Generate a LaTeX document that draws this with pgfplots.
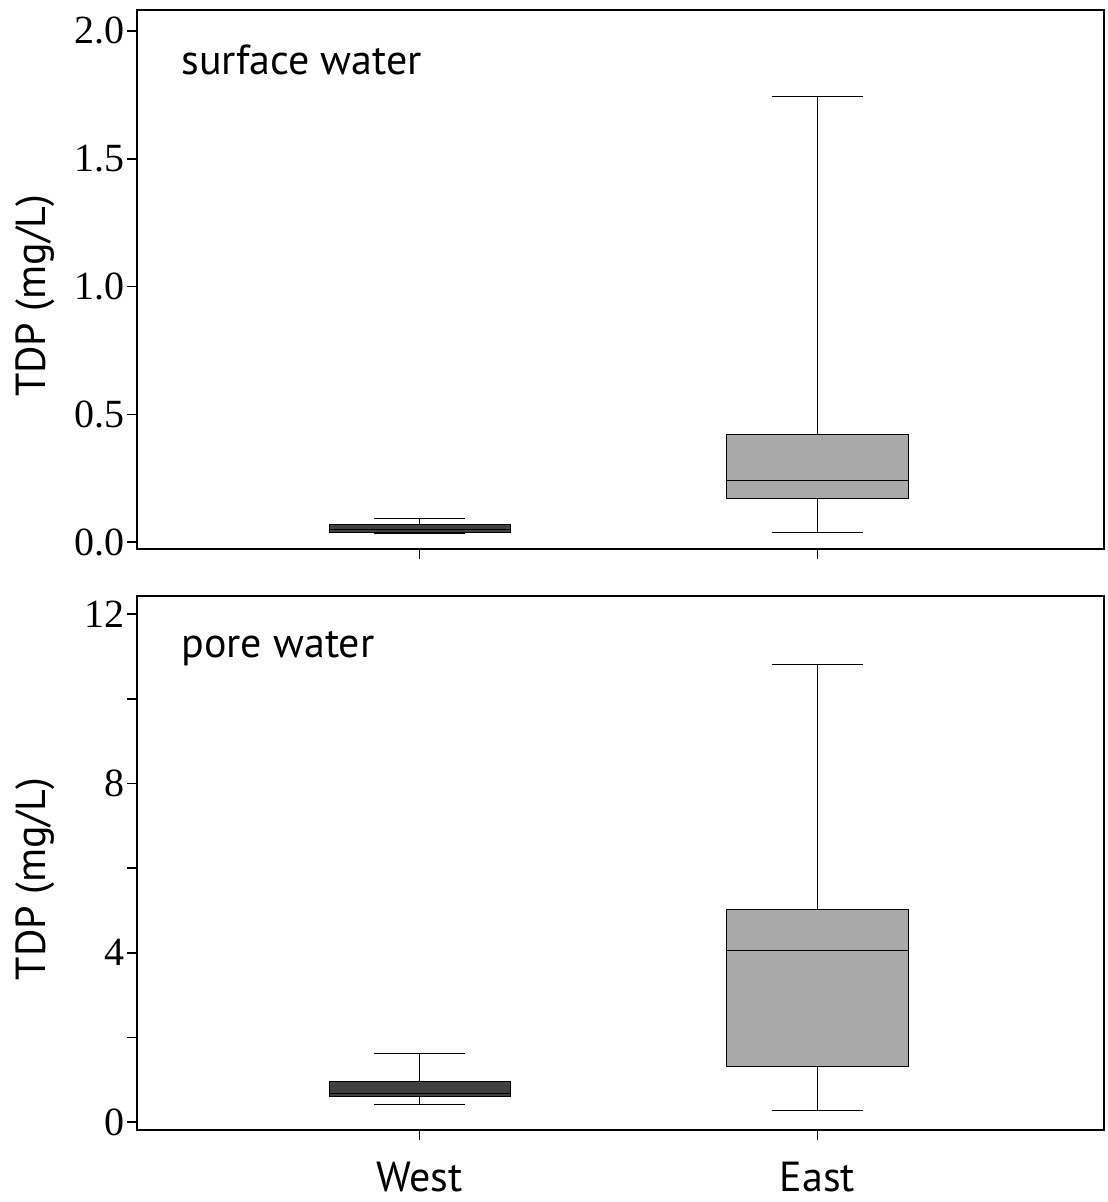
\documentclass[border=0pt]{standalone}
\usepackage{fontspec}
\setmainfont{Liberation Serif}
\setsansfont{PT Sans}
\usepackage{pgfplots}
\pgfplotsset{compat=1.18}
\usepgfplotslibrary{statistics}

\definecolor{westfill}{HTML}{404040}
\definecolor{eastfill}{HTML}{A9A9A9}

\pgfplotsset{panel/.style={
  scale only axis, width=483.5pt,
  xmin=0.29, xmax=2.72,
  axis line style={line width=1pt},
  tick align=outside, xtick pos=bottom, ytick pos=left,
  major tick length=5pt, minor tick length=5pt,
  every tick/.style={line width=0.8pt, black},
  xtick={1,2},
  yticklabel style={font=\fontsize{20}{24}\selectfont, inner sep=1pt},
  xticklabel style={font=\sffamily\fontsize{21}{25}\selectfont, inner sep=0pt, yshift=-11pt},
  /pgf/number format/assume math mode=true,
  ylabel={TDP (mg/L)},
  ylabel style={font=\sffamily\fontsize{21}{25}\selectfont,
    at={(axis description cs:-0.105,0.47)}, anchor=center},
  boxplot/draw direction=y,
  boxplot/box extend=0.455,
  boxplot/whisker extend=0.23,
  clip=false,
}}

\begin{document}
\begin{tikzpicture}
\path[use as bounding box] (0,0) rectangle (553.5pt,-601pt);

% surface water
\begin{axis}[panel, at={(68.5pt,-5pt)}, anchor=north west,
  height=269.5pt,
  ymin=-0.027, ymax=2.082,
  ytick={0,0.5,1,1.5,2},
  yticklabel style={/pgf/number format/.cd, fixed, fixed zerofill, precision=1},
  xticklabels={,},
]
\addplot[boxplot prepared={lower whisker=0.034, lower quartile=0.038, median=0.051,
  upper quartile=0.069, upper whisker=0.094, draw position=1},
  draw=black, line width=0.5pt, fill=westfill] coordinates {};
\addplot[boxplot prepared={lower whisker=0.039, lower quartile=0.172, median=0.242,
  upper quartile=0.422, upper whisker=1.742, draw position=2},
  draw=black, line width=0.5pt, fill=eastfill] coordinates {};
\node[anchor=base west, inner sep=0pt, xshift=22pt, yshift=-32.5pt,
  font=\sffamily\fontsize{21}{25}\selectfont] at (rel axis cs:0,1) {surface water};
\end{axis}

% pore water
\begin{axis}[panel, at={(68.5pt,-298pt)}, anchor=north west,
  height=267pt,
  ymin=-0.19, ymax=12.43,
  ytick={0,4,8,12}, minor ytick={2,6,10},
  xticklabels={West,East},
]
\addplot[boxplot prepared={lower whisker=0.42, lower quartile=0.61, median=0.68,
  upper quartile=0.95, upper whisker=1.62, draw position=1},
  draw=black, line width=0.5pt, fill=westfill] coordinates {};
\addplot[boxplot prepared={lower whisker=0.28, lower quartile=1.30, median=4.06,
  upper quartile=5.01, upper whisker=10.80, draw position=2},
  draw=black, line width=0.5pt, fill=eastfill] coordinates {};
\node[anchor=base west, inner sep=0pt, xshift=22pt, yshift=-30.5pt,
  font=\sffamily\fontsize{21}{25}\selectfont] at (rel axis cs:0,1) {pore water};
\end{axis}
\end{tikzpicture}
\end{document}
